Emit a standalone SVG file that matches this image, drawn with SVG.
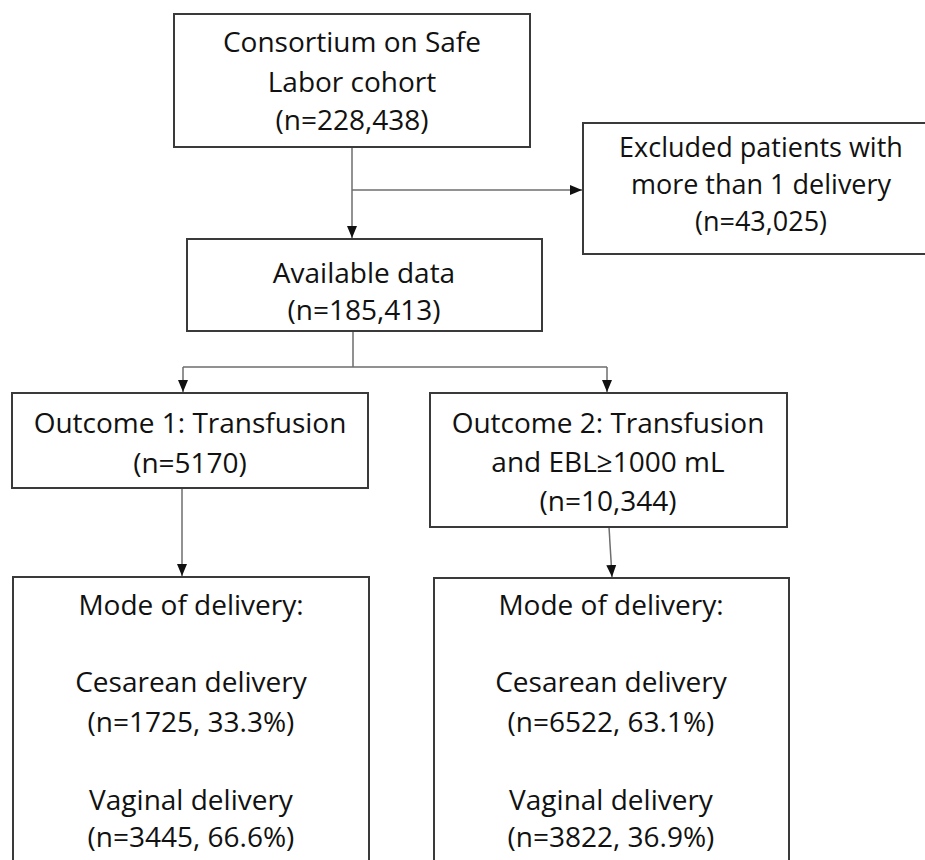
<svg xmlns="http://www.w3.org/2000/svg" width="925" height="860" viewBox="0 0 925 860">
<defs>
<style>
.box{fill:#fff;stroke:#3a3a3a;stroke-width:2}
.t{font-family:"Open Sans","Liberation Sans",sans-serif;font-size:28px;fill:#111;text-anchor:middle}
.s{font-size:27px}
.c{fill:none;stroke:#6e6e6e;stroke-width:1.5}
</style>
<marker id="ah" markerUnits="userSpaceOnUse" markerWidth="12" markerHeight="12" viewBox="0 0 12 12" refX="12" refY="6" orient="auto">
<path d="M0,1 L12,6 L0,11 Z" fill="#111"/>
</marker>
</defs>
<rect width="925" height="860" fill="#fff"/>
<g id="connectors">
<path class="c" d="M352,147 V238" marker-end="url(#ah)"/>
<path class="c" d="M352,190 H582" marker-end="url(#ah)"/>
<path class="c" d="M353,331 V367 M183,367 H607"/>
<path class="c" d="M183,367 V392" marker-end="url(#ah)"/>
<path class="c" d="M607,367 V392" marker-end="url(#ah)"/>
<path class="c" d="M182,488 V576" marker-end="url(#ah)"/>
<path class="c" d="M609,527 L612,577" marker-end="url(#ah)"/>
</g>
<g id="cohort">
<rect class="box" x="174" y="14" width="356" height="133"/>
<text class="t" x="352" y="52">Consortium on Safe</text>
<text class="t" x="352" y="92">Labor cohort</text>
<text class="t" x="352" y="130">(n=228,438)</text>
</g>
<g id="excluded">
<rect class="box" x="583" y="123" width="360" height="131"/>
<text class="t s" x="761" y="157">Excluded patients with</text>
<text class="t s" x="761" y="194">more than 1 delivery</text>
<text class="t s" x="761" y="231">(n=43,025)</text>
</g>
<g id="available">
<rect class="box" x="187" y="239" width="355" height="92"/>
<text class="t" x="364" y="283">Available data</text>
<text class="t" x="364" y="320">(n=185,413)</text>
</g>
<g id="outcome1">
<rect class="box" x="12" y="393" width="356" height="95"/>
<text class="t" x="190" y="433">Outcome 1: Transfusion</text>
<text class="t" x="190" y="473">(n=5170)</text>
</g>
<g id="outcome2">
<rect class="box" x="430" y="393" width="357" height="134"/>
<text class="t" x="608" y="433">Outcome 2: Transfusion</text>
<text class="t" x="608" y="472">and EBL≥1000 mL</text>
<text class="t" x="608" y="511">(n=10,344)</text>
</g>
<g id="mode1">
<rect class="box" x="13" y="577" width="356" height="320"/>
<text class="t" x="191" y="615">Mode of delivery:</text>
<text class="t" x="191" y="692">Cesarean delivery</text>
<text class="t" x="191" y="732">(n=1725, 33.3%)</text>
<text class="t" x="191" y="810">Vaginal delivery</text>
<text class="t" x="191" y="847">(n=3445, 66.6%)</text>
</g>
<g id="mode2">
<rect class="box" x="434" y="578" width="355" height="320"/>
<text class="t" x="611" y="615">Mode of delivery:</text>
<text class="t" x="611" y="692">Cesarean delivery</text>
<text class="t" x="611" y="732">(n=6522, 63.1%)</text>
<text class="t" x="611" y="810">Vaginal delivery</text>
<text class="t" x="611" y="847">(n=3822, 36.9%)</text>
</g>
</svg>
